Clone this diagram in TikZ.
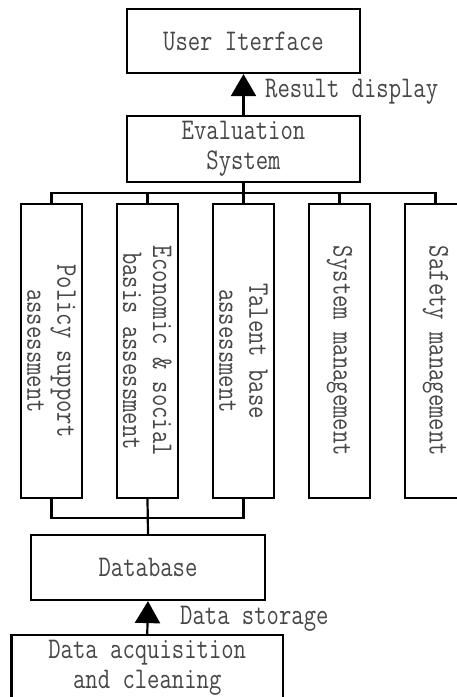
\documentclass[tikz,border=0pt]{standalone}
\usepackage{fontspec}
\newfontfamily\boxfont[FakeStretch=0.8]{Latin Modern Mono}
\usetikzlibrary{arrows.meta}
\definecolor{txt}{HTML}{474747}
\begin{document}
\begin{tikzpicture}[x=1pt,y=-1pt,
  txtfont/.style={font=\boxfont\fontsize{30}{30}\selectfont, text=txt},
  box/.style={draw=black, line width=2.2pt, inner sep=0pt, txtfont, align=center},
  module/.style={box, minimum width=61pt, minimum height=294pt},
  vtext/.style={txtfont, rotate=-90, align=center, inner sep=0pt},
  lbl/.style={txtfont, inner sep=0pt, anchor=west},
  link/.style={line width=2.2pt},
  up/.style={line width=2.2pt, -{Triangle[length=22pt,width=25pt]}}]
\useasboundingbox (0,0) rectangle (457,697);

% top level boxes
\node[box, minimum width=233pt, minimum height=64pt] (ui) at (243.5,41) {User Iterface};
\node[box, minimum width=233pt, minimum height=66pt] (eval) at (243.5,149) {Evaluation\\System};

% assessment and management modules
\node[module] (m1) at (51.5,351) {};
\node[module] (m2) at (147.5,351) {};
\node[module] (m3) at (243.5,351) {};
\node[module] (m4) at (339.5,351) {};
\node[module] (m5) at (435.5,351) {};
\node[vtext] at (m1) {Policy support\\assessment};
\node[vtext] at (m2) {Economic \& social\\basis assessment};
\node[vtext] at (m3) {Talent base\\assessment};
\node[vtext] at (m4) {System management};
\node[vtext] at (m5) {Safety management};

% data layer
\node[box, minimum width=234pt, minimum height=65pt] (db) at (148,567.5) {Database};
\node[box, minimum width=271.5pt, minimum height=66pt] (acq) at (147.25,668) {Data acquisition\\and cleaning};

% bus lines
\coordinate (bus) at (243.5,193);
\coordinate (lbus) at (147.5,518);
\draw[link] (m1.north) |- (m5.north |- bus) -- (m5.north);
\draw[link] (m2.north) -- (m2.north |- bus);
\draw[link] (m4.north) -- (m4.north |- bus);
\draw[link] (eval.south) -- (m3.north);
\draw[link] (m1.south) |- (m3.south |- lbus) -- (m3.south);
\draw[link] (m2.south) -- (db.north);

% flows with labels
\draw[up] (eval.north) -- (ui.south);
\node[lbl] (rd) at (265,92) {Result display};
\draw[up] (acq.north) -- (db.south);
\node[lbl] (ds) at (180,619) {Data storage};
\end{tikzpicture}
\end{document}
